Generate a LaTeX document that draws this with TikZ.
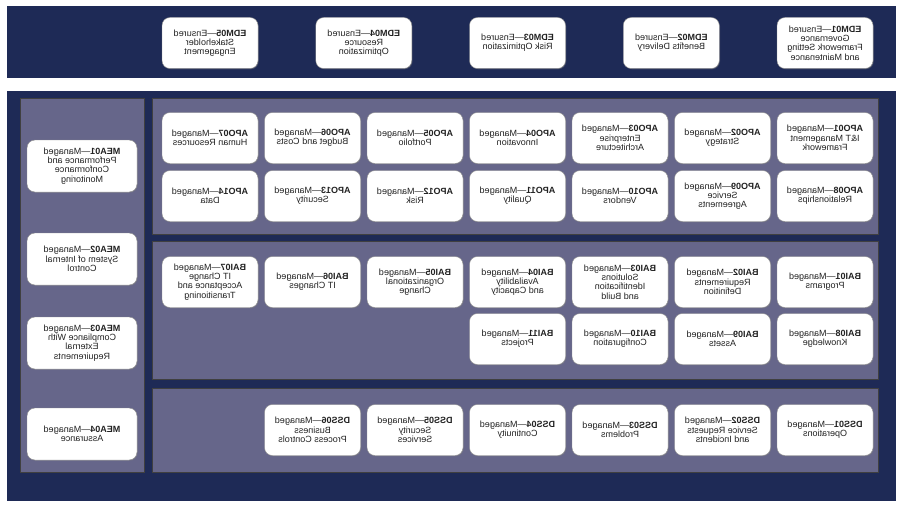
\documentclass[tikz,border=0pt]{standalone}
\usepackage{fontspec}
\setmainfont{Liberation Sans}
\usetikzlibrary{shadows}
\definecolor{navy}{HTML}{1E2A56}
\definecolor{panel}{HTML}{66668A}
\definecolor{boxline}{HTML}{8C8C8C}
\definecolor{ink}{HTML}{222222}

\begin{document}
\begin{tikzpicture}[x=1pt, y=-1pt,
  proc/.style={draw=boxline, fill=white, rounded corners=8pt, minimum width=96pt,
    minimum height=51pt, inner sep=1pt, align=center, text=ink,
    font=\fontsize{9}{9.3}\selectfont, xscale=-1,
    drop shadow={shadow xshift=.8pt, shadow yshift=-.8pt, opacity=.35}},
  meabox/.style={proc, minimum width=110pt, minimum height=52pt},
  band/.style={fill=navy},
  lane/.style={fill=panel, draw=black!75, line width=.7pt}]
\useasboundingbox (0,0) rectangle (900,511);
\fill[white] (0,0) rectangle (900,511);
% dark bands
\fill[band] (7,6) rectangle (896,78);
\fill[band] (7,91) rectangle (896,501);
% lanes
\draw[lane] (20,98) rectangle (144,472);
\draw[lane] (152,98) rectangle (878,234);
\draw[lane] (152,241) rectangle (878,379);
\draw[lane] (152,388) rectangle (878,472);

% EDM
\foreach \k/\n/\t in {0/01/{Governance\\Framework Setting\\and Maintenance}, 1/02/{Benefits Delivery},
  2/03/{Risk Optimization}, 3/04/{Resource\\Optimization}, 4/05/{Stakeholder\\Engagement}}
  \node[proc] (edm\n) at ({825-153.75*\k},43) {\textbf{EDM\n}---Ensured\\\t};

% APO
\foreach \k/\n/\t in {0/01/{I\&T Management\\Framework}, 1/02/Strategy, 2/03/{Enterprise\\Architecture},
  3/04/Innovation, 4/05/Portfolio, 5/06/{Budget and Costs}, 6/07/{Human Resources}}
  \node[proc] (apo\n) at ({825-102.5*\k},138) {\textbf{APO\n}---Managed\\\t};
\foreach \k/\n/\t in {0/08/Relationships, 1/09/{Service\\Agreements}, 2/10/Vendors,
  3/11/Quality, 4/12/Risk, 5/13/Security, 6/14/Data}
  \node[proc] (apo\n) at ({825-102.5*\k},196) {\textbf{APO\n}---Managed\\\t};

% BAI
\foreach \k/\n/\t in {0/01/Programs, 1/02/{Requirements\\Definition}, 2/03/{Solutions\\Identification\\and Build},
  3/04/{Availability\\and Capacity}, 4/05/{Organizational\\Change}, 5/06/{IT Changes},
  6/07/{IT Change\\Acceptance and\\Transitioning}}
  \node[proc] (bai\n) at ({825-102.5*\k},282) {\textbf{BAI\n}---Managed\\\t};
\foreach \k/\n/\t in {0/08/Knowledge, 1/09/Assets, 2/10/Configuration, 3/11/Projects}
  \node[proc] (bai\n) at ({825-102.5*\k},339) {\textbf{BAI\n}---Managed\\\t};

% DSS
\foreach \k/\n/\t in {0/01/Operations, 1/02/{Service Requests\\and Incidents}, 2/03/Problems,
  3/04/Continuity, 4/05/{Security\\Services}, 5/06/{Business\\Process Controls}}
  \node[proc] (dss\n) at ({825-102.5*\k},430) {\textbf{DSS\n}---Managed\\\t};

% MEA
\foreach \y/\n/\t in {166/01/{Performance and\\Conformance\\Monitoring}, 259/02/{System of Internal\\Control},
  343/03/{Compliance With\\External\\Requirements}, 434/04/Assurance}
  \node[meabox] (mea\n) at (82,\y) {\textbf{MEA\n}---Managed\\\t};
\end{tikzpicture}
\end{document}
